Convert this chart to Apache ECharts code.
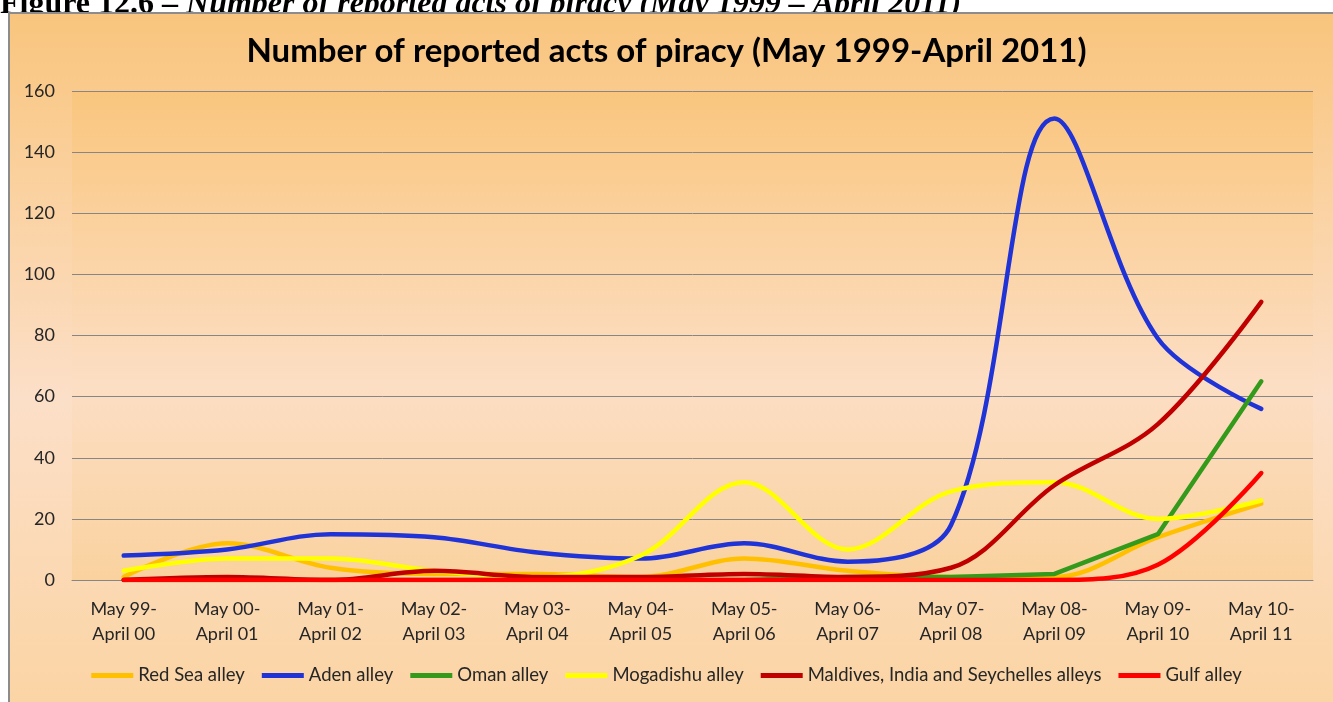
<!DOCTYPE html>
<html>
<head>
<meta charset="utf-8">
<script src="https://cdn.jsdelivr.net/npm/echarts@6/dist/echarts.min.js"></script>
<style>
  html, body { margin: 0; padding: 0; background: #fff; }
  #chart { width: 1333px; height: 702px; }
</style>
</head>
<body>
<div id="chart"></div>
<script>
  // periods on the x axis
  const categories = [
    'May 99-\nApril 00', 'May 00-\nApril 01', 'May 01-\nApril 02', 'May 02-\nApril 03',
    'May 03-\nApril 04', 'May 04-\nApril 05', 'May 05-\nApril 06', 'May 06-\nApril 07',
    'May 07-\nApril 08', 'May 08-\nApril 09', 'May 09-\nApril 10', 'May 10-\nApril 11'
  ];
  const yTicks = [0, 20, 40, 60, 80, 100, 120, 140, 160];

  // reported acts per alley
  const redSea    = [1, 12, 4, 2, 2, 1, 7, 3, 1, 1, 14, 25];
  const aden      = [8, 10, 15, 14, 9, 7, 12, 6, 18, 151, 79, 56];
  const oman      = [0, 0, 0, 0, 0, 0, 0, 1, 1, 2, 15, 65];
  const mogadishu = [3, 7, 7, 3, 1, 8, 32, 10, 29, 32, 20, 26];
  const maldives  = [0, 1, 0, 3, 1, 1, 2, 1, 4, 31, 51, 91];
  const gulf      = [0, 0, 0, 0, 0, 0, 0, 0, 0, 0, 5, 35];

  const seriesDefs = [
    { name: 'Red Sea alley', data: redSea, color: '#FFC000', smooth: true },
    { name: 'Aden alley', data: aden, color: '#1F33D6', smooth: true },
    { name: 'Oman alley', data: oman, color: '#349A1C', smooth: false },
    { name: 'Mogadishu alley', data: mogadishu, color: '#FFFF00', smooth: true },
    { name: 'Maldives, India and Seychelles alleys', data: maldives, color: '#C00000', smooth: true },
    { name: 'Gulf alley', data: gulf, color: '#FF0000', smooth: true },
  ];

  const font = 'Lato, "Noto Sans", sans-serif';
  const chart = echarts.init(document.getElementById('chart'));

  const option = {
    backgroundColor: '#ffffff',
    animation: false,
    graphic: [
      {
        type: 'text',
        left: 0,
        top: -11,
        z: 0,
        style: {
          text: '{a|Figure 12.6 – }{b|Number of reported acts of piracy (May 1999 – April 2011)}',
          rich: {
            a: { fontFamily: '"Liberation Serif", serif', fontWeight: 'bold', fontSize: 32, fill: '#000' },
            b: { fontFamily: '"Liberation Serif", serif', fontWeight: 'bold', fontStyle: 'italic', fontSize: 32, fill: '#000' },
          },
        },
      },
      {
        type: 'rect',
        z: 0,
        shape: { x: 9, y: 13, width: 1340, height: 700 },
        style: {
          fill: new echarts.graphic.LinearGradient(0, 0, 0, 1, [
            { offset: 0, color: '#F9C57D' },
            { offset: 0.55, color: '#FCDFC8' },
            { offset: 1, color: '#FBD4A3' },
          ]),
          stroke: '#8c8c8c',
          lineWidth: 2,
        },
      },
    ],
    title: {
      text: 'Number of reported acts of piracy (May 1999-April 2011)',
      left: 'center',
      top: 30,
      textStyle: { fontFamily: font, fontWeight: 'bold', fontSize: 33, color: '#000' },
      z: 3,
    },
    legend: {
      bottom: 12,
      left: 'center',
      icon: 'rect',
      itemWidth: 42,
      itemHeight: 5,
      itemGap: 17,
      textStyle: { fontFamily: font, fontSize: 18.5, color: '#262626' },
      z: 3,
    },
    grid: {
      left: 72,
      right: 20,
      top: 91,
      bottom: 122,
      show: true,
      borderWidth: 0,
      z: 1,
      backgroundColor: new echarts.graphic.LinearGradient(0, 0, 0, 1, [
        { offset: 0, color: '#FAC67E' },
        { offset: 0.6, color: '#FCDEC4' },
        { offset: 1, color: '#FAD29F' },
      ]),
    },
    xAxis: {
      type: 'category',
      data: categories,
      boundaryGap: true,
      z: 2,
      axisLine: { lineStyle: { color: '#868686', width: 1 } },
      axisTick: { show: false },
      axisLabel: {
        interval: 0,
        margin: 17,
        fontFamily: font,
        fontSize: 18,
        lineHeight: 25,
        color: '#262626',
      },
    },
    yAxis: {
      type: 'value',
      min: yTicks[0],
      max: yTicks[yTicks.length - 1],
      interval: yTicks[1] - yTicks[0],
      z: 2,
      axisLine: { show: false },
      axisTick: { show: false },
      axisLabel: { margin: 17, fontFamily: font, fontSize: 18, color: '#262626' },
      splitLine: { lineStyle: { color: '#868686', width: 1 } },
    },
    series: seriesDefs.map((s, i) => ({
      name: s.name,
      type: 'line',
      data: s.data,
      smooth: s.smooth ? 0.35 : false,
      showSymbol: false,
      symbol: 'none',
      color: s.color,
      lineStyle: { color: s.color, width: 4.5, cap: 'round', join: 'round' },
      z: 3 + i * 0.01,
    })),
  };

  chart.setOption(option);
</script>
</body>
</html>
